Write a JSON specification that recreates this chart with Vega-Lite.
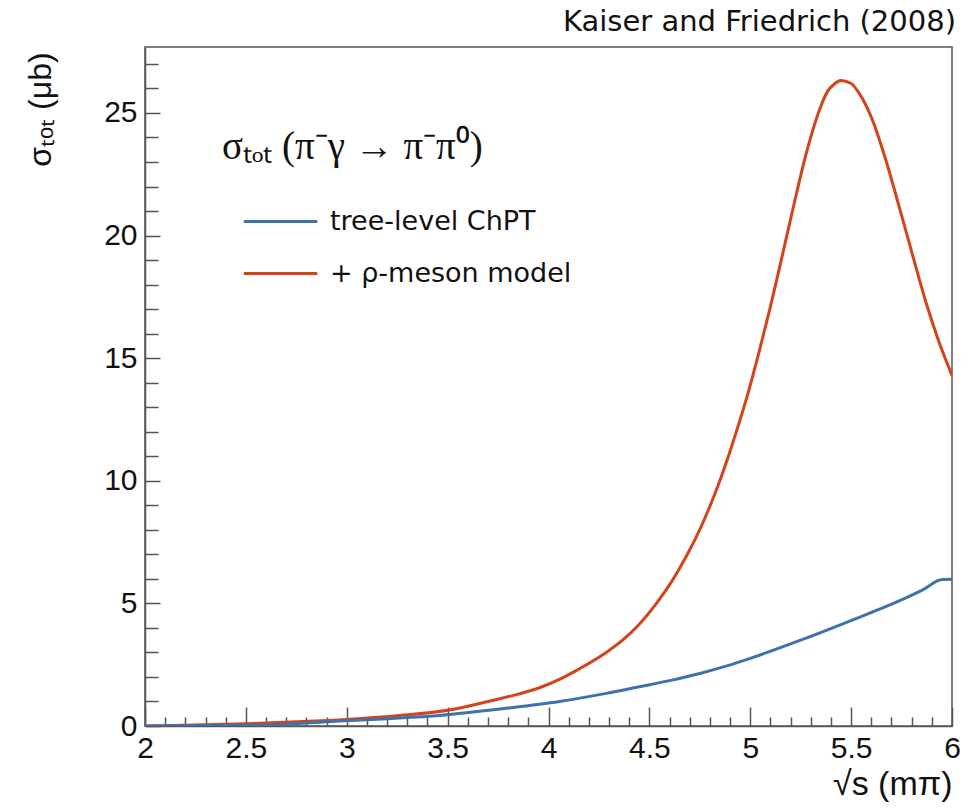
{
  "$schema": "https://vega.github.io/schema/vega-lite/v6.json",
  "width": 807,
  "height": 679,
  "autosize": {"type": "none"},
  "padding": {"left": 145, "top": 47, "right": 27, "bottom": 83},
  "background": "white",
  "config": {
    "view": {"stroke": "#555555", "strokeWidth": 1.5},
    "font": "Liberation Sans"
  },
  "title": {
    "text": "Kaiser and Friedrich (2008)",
    "anchor": "end",
    "frame": "group",
    "orient": "top",
    "font": "DejaVu Sans",
    "fontSize": 29,
    "fontWeight": "normal",
    "color": "#111111",
    "offset": 10,
    "dx": 4
  },
  "data": {
    "values": [
      {"x": 2.0, "y": 0.0, "series": "+ ρ-meson model"},
      {"x": 2.25, "y": 0.04, "series": "+ ρ-meson model"},
      {"x": 2.5, "y": 0.09, "series": "+ ρ-meson model"},
      {"x": 2.75, "y": 0.17, "series": "+ ρ-meson model"},
      {"x": 3.0, "y": 0.27, "series": "+ ρ-meson model"},
      {"x": 3.25, "y": 0.42, "series": "+ ρ-meson model"},
      {"x": 3.5, "y": 0.64, "series": "+ ρ-meson model"},
      {"x": 3.7, "y": 1.0, "series": "+ ρ-meson model"},
      {"x": 3.85, "y": 1.3, "series": "+ ρ-meson model"},
      {"x": 3.955, "y": 1.56, "series": "+ ρ-meson model"},
      {"x": 4.054, "y": 1.9, "series": "+ ρ-meson model"},
      {"x": 4.15, "y": 2.32, "series": "+ ρ-meson model"},
      {"x": 4.286, "y": 3.0, "series": "+ ρ-meson model"},
      {"x": 4.37, "y": 3.52, "series": "+ ρ-meson model"},
      {"x": 4.45, "y": 4.15, "series": "+ ρ-meson model"},
      {"x": 4.535, "y": 5.0, "series": "+ ρ-meson model"},
      {"x": 4.615, "y": 5.95, "series": "+ ρ-meson model"},
      {"x": 4.685, "y": 6.95, "series": "+ ρ-meson model"},
      {"x": 4.748, "y": 7.98, "series": "+ ρ-meson model"},
      {"x": 4.847, "y": 9.95, "series": "+ ρ-meson model"},
      {"x": 4.929, "y": 11.95, "series": "+ ρ-meson model"},
      {"x": 4.995, "y": 13.75, "series": "+ ρ-meson model"},
      {"x": 5.045, "y": 15.3, "series": "+ ρ-meson model"},
      {"x": 5.094, "y": 16.9, "series": "+ ρ-meson model"},
      {"x": 5.144, "y": 18.65, "series": "+ ρ-meson model"},
      {"x": 5.209, "y": 21.0, "series": "+ ρ-meson model"},
      {"x": 5.276, "y": 23.3, "series": "+ ρ-meson model"},
      {"x": 5.342, "y": 25.1, "series": "+ ρ-meson model"},
      {"x": 5.381, "y": 25.85, "series": "+ ρ-meson model"},
      {"x": 5.42, "y": 26.2, "series": "+ ρ-meson model"},
      {"x": 5.449, "y": 26.32, "series": "+ ρ-meson model"},
      {"x": 5.498, "y": 26.21, "series": "+ ρ-meson model"},
      {"x": 5.54, "y": 25.8, "series": "+ ρ-meson model"},
      {"x": 5.606, "y": 24.71, "series": "+ ρ-meson model"},
      {"x": 5.672, "y": 23.08, "series": "+ ρ-meson model"},
      {"x": 5.738, "y": 21.18, "series": "+ ρ-meson model"},
      {"x": 5.803, "y": 19.25, "series": "+ ρ-meson model"},
      {"x": 5.87, "y": 17.3, "series": "+ ρ-meson model"},
      {"x": 5.936, "y": 15.65, "series": "+ ρ-meson model"},
      {"x": 6.0, "y": 14.3, "series": "+ ρ-meson model"},
      {"x": 2.0, "y": 0.0, "series": "tree-level ChPT"},
      {"x": 2.5, "y": 0.03, "series": "tree-level ChPT"},
      {"x": 2.72, "y": 0.08, "series": "tree-level ChPT"},
      {"x": 2.965, "y": 0.2, "series": "tree-level ChPT"},
      {"x": 3.2, "y": 0.3, "series": "tree-level ChPT"},
      {"x": 3.46, "y": 0.43, "series": "tree-level ChPT"},
      {"x": 3.79, "y": 0.72, "series": "tree-level ChPT"},
      {"x": 4.054, "y": 1.0, "series": "tree-level ChPT"},
      {"x": 4.286, "y": 1.33, "series": "tree-level ChPT"},
      {"x": 4.45, "y": 1.6, "series": "tree-level ChPT"},
      {"x": 4.6, "y": 1.85, "series": "tree-level ChPT"},
      {"x": 4.75, "y": 2.14, "series": "tree-level ChPT"},
      {"x": 4.875, "y": 2.43, "series": "tree-level ChPT"},
      {"x": 5.0, "y": 2.76, "series": "tree-level ChPT"},
      {"x": 5.243, "y": 3.48, "series": "tree-level ChPT"},
      {"x": 5.49, "y": 4.27, "series": "tree-level ChPT"},
      {"x": 5.738, "y": 5.1, "series": "tree-level ChPT"},
      {"x": 5.85, "y": 5.53, "series": "tree-level ChPT"},
      {"x": 5.952, "y": 5.97, "series": "tree-level ChPT"},
      {"x": 6.0, "y": 5.98, "series": "tree-level ChPT"}
    ]
  },
  "mark": {"type": "line", "interpolate": "monotone", "strokeWidth": 3, "clip": true},
  "encoding": {
    "x": {
      "field": "x",
      "type": "quantitative",
      "scale": {"domain": [2, 6], "nice": false, "zero": false},
      "axis": {
        "title": "√s (mπ)",
        "titleFont": "Liberation Sans",
        "titleFontSize": 34,
        "titleFontWeight": "normal",
        "titleColor": "#111111",
        "titleAnchor": "end",
        "titleAlign": "right",
        "titleBaseline": "middle",
        "titleX": 807,
        "titleY": 58,
        "values": [2.0,2.1,2.2,2.3,2.4,2.5,2.6,2.7,2.8,2.9,3.0,3.1,3.2,3.3,3.4,3.5,3.6,3.7,3.8,3.9,4.0,4.1,4.2,4.3,4.4,4.5,4.6,4.7,4.8,4.9,5.0,5.1,5.2,5.3,5.4,5.5,5.6,5.7,5.8,5.9,6.0],
        "format": "~g",
        "labelExpr": "round(datum.value*10) % 5 === 0 ? datum.label : ''",
        "labelFont": "Liberation Sans",
        "labelFontSize": 30,
        "labelColor": "#111111",
        "labelPadding": 26,
        "labelFlush": false,
        "labelOverlap": false,
        "domainColor": "#555555",
        "domainWidth": 1.5,
        "tickColor": "#555555",
        "tickWidth": 1.5,
        "tickSize": {"condition": {"test": "round(datum.value*10) % 5 === 0", "value": -19}, "value": -9},
        "grid": false
      }
    },
    "y": {
      "field": "y",
      "type": "quantitative",
      "scale": {"domain": [0, 27.69], "nice": false},
      "axis": {
        "title": "σₜₒₜ (μb)",
        "titleFont": "Liberation Sans",
        "titleFontSize": 32,
        "titleFontWeight": "normal",
        "titleColor": "#111111",
        "titleAngle": -90,
        "titleAlign": "center",
        "titleBaseline": "middle",
        "titleX": -105,
        "titleY": 62,
        "values": [0,1,2,3,4,5,6,7,8,9,10,11,12,13,14,15,16,17,18,19,20,21,22,23,24,25,26,27],
        "labelExpr": "datum.value % 5 === 0 ? datum.label : ''",
        "labelFont": "Liberation Sans",
        "labelFontSize": 30,
        "labelColor": "#111111",
        "labelPadding": 23,
        "labelFlush": false,
        "labelOverlap": false,
        "domainColor": "#555555",
        "domainWidth": 1.5,
        "tickColor": "#555555",
        "tickWidth": 1.5,
        "tickSize": {"condition": {"test": "datum.value % 5 === 0", "value": -15}, "value": -13},
        "grid": false
      }
    },
    "color": {
      "field": "series",
      "type": "nominal",
      "scale": {"domain": ["tree-level ChPT", "+ ρ-meson model"], "range": ["#3D72AA", "#D5431B"]},
      "legend": {
        "title": "σₜₒₜ (π⁻γ → π⁻π⁰)",
        "titleFont": "Liberation Serif",
        "titleFontSize": 39,
        "titleFontWeight": "normal",
        "titleColor": "#111111",
        "titleLimit": 700,
        "titlePadding": 16,
        "orient": "none",
        "legendX": 77,
        "legendY": 81,
        "symbolType": "stroke",
        "symbolSize": 5400,
        "symbolStrokeWidth": 3,
        "symbolOffset": 20,
        "labelFont": "DejaVu Sans",
        "labelFontSize": 27,
        "labelColor": "#111111",
        "labelOffset": 11,
        "rowPadding": -18,
        "labelLimit": 400,
        "padding": 0,
        "offset": 0
      }
    }
  }
}
